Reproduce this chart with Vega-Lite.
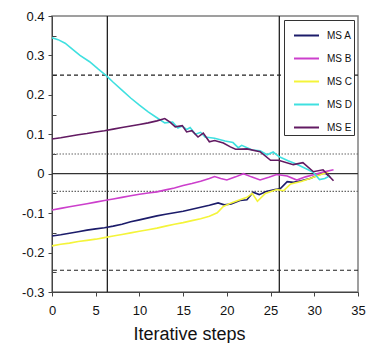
{
  "$schema": "https://vega.github.io/schema/vega-lite/v6.json",
  "autosize": {"type": "none"},
  "padding": {"left": 52, "top": 16, "right": 21, "bottom": 51},
  "width": 306,
  "height": 276,
  "background": "white",
  "config": {
    "view": {"stroke": "#808080", "strokeWidth": 1.5},
    "axis": {"labelFont": "Liberation Sans", "labelFontSize": 13, "labelColor": "#111", "domainColor": "#444", "tickColor": "#444", "grid": false, "titleFont": "Liberation Sans", "titleFontWeight": "normal", "titleColor": "#111"}
  },
  "resolve": {"axis": {"y": "independent"}},
  "datasets": {
    "lines": [
      {"step": 0, "value": -0.158, "series": "MS A"}, {"step": 1, "value": -0.155, "series": "MS A"}, {"step": 2, "value": -0.151, "series": "MS A"}, {"step": 3, "value": -0.147, "series": "MS A"}, {"step": 4, "value": -0.143, "series": "MS A"}, {"step": 5, "value": -0.140, "series": "MS A"}, {"step": 6, "value": -0.137, "series": "MS A"}, {"step": 7, "value": -0.133, "series": "MS A"}, {"step": 8, "value": -0.128, "series": "MS A"}, {"step": 9, "value": -0.122, "series": "MS A"}, {"step": 10, "value": -0.117, "series": "MS A"}, {"step": 11, "value": -0.112, "series": "MS A"}, {"step": 12, "value": -0.107, "series": "MS A"}, {"step": 13, "value": -0.103, "series": "MS A"}, {"step": 14, "value": -0.099, "series": "MS A"}, {"step": 15, "value": -0.095, "series": "MS A"}, {"step": 16, "value": -0.090, "series": "MS A"}, {"step": 17, "value": -0.085, "series": "MS A"}, {"step": 18, "value": -0.080, "series": "MS A"}, {"step": 19, "value": -0.074, "series": "MS A"}, {"step": 19.7, "value": -0.079, "series": "MS A"}, {"step": 20.5, "value": -0.077, "series": "MS A"}, {"step": 21.5, "value": -0.068, "series": "MS A"}, {"step": 22.3, "value": -0.066, "series": "MS A"}, {"step": 23, "value": -0.047, "series": "MS A"}, {"step": 23.7, "value": -0.053, "series": "MS A"}, {"step": 24.5, "value": -0.045, "series": "MS A"}, {"step": 25.5, "value": -0.040, "series": "MS A"}, {"step": 26.1, "value": -0.038, "series": "MS A"}, {"step": 26.9, "value": -0.020, "series": "MS A"}, {"step": 27.6, "value": -0.022, "series": "MS A"}, {"step": 28.5, "value": -0.018, "series": "MS A"}, {"step": 29.5, "value": -0.012, "series": "MS A"}, {"step": 30.5, "value": -0.003, "series": "MS A"}, {"step": 31.2, "value": 0.003, "series": "MS A"}, {"step": 31.8, "value": -0.008, "series": "MS A"},

      {"step": 0, "value": -0.092, "series": "MS B"}, {"step": 1, "value": -0.088, "series": "MS B"}, {"step": 2, "value": -0.084, "series": "MS B"}, {"step": 3, "value": -0.080, "series": "MS B"}, {"step": 4, "value": -0.076, "series": "MS B"}, {"step": 5, "value": -0.072, "series": "MS B"}, {"step": 6, "value": -0.068, "series": "MS B"}, {"step": 7, "value": -0.064, "series": "MS B"}, {"step": 8, "value": -0.060, "series": "MS B"}, {"step": 9, "value": -0.056, "series": "MS B"}, {"step": 10, "value": -0.052, "series": "MS B"}, {"step": 11, "value": -0.049, "series": "MS B"}, {"step": 12, "value": -0.046, "series": "MS B"}, {"step": 13, "value": -0.041, "series": "MS B"}, {"step": 14, "value": -0.036, "series": "MS B"}, {"step": 15, "value": -0.030, "series": "MS B"}, {"step": 16, "value": -0.025, "series": "MS B"}, {"step": 17, "value": -0.019, "series": "MS B"}, {"step": 18, "value": -0.012, "series": "MS B"}, {"step": 18.6, "value": -0.007, "series": "MS B"}, {"step": 19.3, "value": -0.012, "series": "MS B"}, {"step": 20, "value": -0.016, "series": "MS B"}, {"step": 21, "value": -0.008, "series": "MS B"}, {"step": 21.9, "value": 0.0, "series": "MS B"}, {"step": 22.8, "value": -0.008, "series": "MS B"}, {"step": 23.8, "value": -0.016, "series": "MS B"}, {"step": 24.8, "value": -0.009, "series": "MS B"}, {"step": 25.7, "value": -0.002, "series": "MS B"}, {"step": 26.9, "value": -0.006, "series": "MS B"}, {"step": 28, "value": -0.016, "series": "MS B"}, {"step": 29, "value": -0.008, "series": "MS B"}, {"step": 30, "value": -0.002, "series": "MS B"}, {"step": 31, "value": 0.004, "series": "MS B"}, {"step": 32.2, "value": 0.010, "series": "MS B"},

      {"step": 0, "value": -0.183, "series": "MS C"}, {"step": 1, "value": -0.179, "series": "MS C"}, {"step": 2, "value": -0.176, "series": "MS C"}, {"step": 3, "value": -0.172, "series": "MS C"}, {"step": 4, "value": -0.169, "series": "MS C"}, {"step": 5, "value": -0.166, "series": "MS C"}, {"step": 6, "value": -0.162, "series": "MS C"}, {"step": 7, "value": -0.158, "series": "MS C"}, {"step": 8, "value": -0.154, "series": "MS C"}, {"step": 9, "value": -0.150, "series": "MS C"}, {"step": 10, "value": -0.146, "series": "MS C"}, {"step": 11, "value": -0.142, "series": "MS C"}, {"step": 12, "value": -0.138, "series": "MS C"}, {"step": 13, "value": -0.133, "series": "MS C"}, {"step": 14, "value": -0.128, "series": "MS C"}, {"step": 15, "value": -0.124, "series": "MS C"}, {"step": 16, "value": -0.119, "series": "MS C"}, {"step": 17, "value": -0.114, "series": "MS C"}, {"step": 18, "value": -0.108, "series": "MS C"}, {"step": 18.9, "value": -0.099, "series": "MS C"}, {"step": 19.6, "value": -0.083, "series": "MS C"}, {"step": 20.5, "value": -0.074, "series": "MS C"}, {"step": 21.5, "value": -0.066, "series": "MS C"}, {"step": 22.3, "value": -0.060, "series": "MS C"}, {"step": 22.9, "value": -0.050, "series": "MS C"}, {"step": 23.5, "value": -0.070, "series": "MS C"}, {"step": 24.4, "value": -0.050, "series": "MS C"}, {"step": 25.7, "value": -0.040, "series": "MS C"}, {"step": 26.5, "value": -0.043, "series": "MS C"}, {"step": 27.3, "value": -0.026, "series": "MS C"}, {"step": 28.5, "value": -0.020, "series": "MS C"}, {"step": 29.5, "value": -0.012, "series": "MS C"}, {"step": 30.3, "value": -0.006, "series": "MS C"}, {"step": 31, "value": 0.0, "series": "MS C"}, {"step": 31.6, "value": 0.003, "series": "MS C"},

      {"step": 0, "value": 0.345, "series": "MS D"}, {"step": 0.7, "value": 0.340, "series": "MS D"}, {"step": 1.5, "value": 0.331, "series": "MS D"}, {"step": 2.5, "value": 0.313, "series": "MS D"}, {"step": 3.2, "value": 0.300, "series": "MS D"}, {"step": 4.3, "value": 0.284, "series": "MS D"}, {"step": 5.3, "value": 0.265, "series": "MS D"}, {"step": 6.3, "value": 0.247, "series": "MS D"}, {"step": 7, "value": 0.232, "series": "MS D"}, {"step": 8, "value": 0.212, "series": "MS D"}, {"step": 9, "value": 0.192, "series": "MS D"}, {"step": 10, "value": 0.174, "series": "MS D"}, {"step": 11, "value": 0.157, "series": "MS D"}, {"step": 12, "value": 0.142, "series": "MS D"}, {"step": 12.9, "value": 0.129, "series": "MS D"}, {"step": 13.8, "value": 0.131, "series": "MS D"}, {"step": 14.4, "value": 0.116, "series": "MS D"}, {"step": 14.9, "value": 0.121, "series": "MS D"}, {"step": 15.4, "value": 0.112, "series": "MS D"}, {"step": 15.8, "value": 0.117, "series": "MS D"}, {"step": 16.4, "value": 0.100, "series": "MS D"}, {"step": 17, "value": 0.105, "series": "MS D"}, {"step": 17.5, "value": 0.093, "series": "MS D"}, {"step": 18.6, "value": 0.090, "series": "MS D"}, {"step": 19.8, "value": 0.083, "series": "MS D"}, {"step": 20.7, "value": 0.079, "series": "MS D"}, {"step": 21.3, "value": 0.066, "series": "MS D"}, {"step": 21.7, "value": 0.072, "series": "MS D"}, {"step": 22.9, "value": 0.060, "series": "MS D"}, {"step": 23.8, "value": 0.058, "series": "MS D"}, {"step": 24.6, "value": 0.048, "series": "MS D"}, {"step": 25.3, "value": 0.055, "series": "MS D"}, {"step": 26, "value": 0.043, "series": "MS D"}, {"step": 27, "value": 0.033, "series": "MS D"}, {"step": 28, "value": 0.024, "series": "MS D"}, {"step": 29.3, "value": 0.010, "series": "MS D"}, {"step": 29.9, "value": 0.003, "series": "MS D"}, {"step": 30.6, "value": -0.015, "series": "MS D"}, {"step": 31.2, "value": -0.012, "series": "MS D"}, {"step": 31.8, "value": -0.005, "series": "MS D"},

      {"step": 0, "value": 0.088, "series": "MS E"}, {"step": 1, "value": 0.091, "series": "MS E"}, {"step": 2, "value": 0.095, "series": "MS E"}, {"step": 3, "value": 0.099, "series": "MS E"}, {"step": 4, "value": 0.102, "series": "MS E"}, {"step": 5, "value": 0.106, "series": "MS E"}, {"step": 6, "value": 0.109, "series": "MS E"}, {"step": 7, "value": 0.113, "series": "MS E"}, {"step": 8, "value": 0.117, "series": "MS E"}, {"step": 9, "value": 0.121, "series": "MS E"}, {"step": 10, "value": 0.125, "series": "MS E"}, {"step": 11, "value": 0.129, "series": "MS E"}, {"step": 12, "value": 0.134, "series": "MS E"}, {"step": 12.9, "value": 0.140, "series": "MS E"}, {"step": 13.5, "value": 0.131, "series": "MS E"}, {"step": 14.1, "value": 0.119, "series": "MS E"}, {"step": 14.9, "value": 0.122, "series": "MS E"}, {"step": 15.4, "value": 0.106, "series": "MS E"}, {"step": 16, "value": 0.109, "series": "MS E"}, {"step": 16.7, "value": 0.093, "series": "MS E"}, {"step": 17.3, "value": 0.103, "series": "MS E"}, {"step": 18, "value": 0.081, "series": "MS E"}, {"step": 18.6, "value": 0.084, "series": "MS E"}, {"step": 19.6, "value": 0.078, "series": "MS E"}, {"step": 20.4, "value": 0.068, "series": "MS E"}, {"step": 21, "value": 0.062, "series": "MS E"}, {"step": 22.3, "value": 0.063, "series": "MS E"}, {"step": 23.8, "value": 0.056, "series": "MS E"}, {"step": 25, "value": 0.034, "series": "MS E"}, {"step": 25.9, "value": 0.034, "series": "MS E"}, {"step": 27.6, "value": 0.023, "series": "MS E"}, {"step": 28.7, "value": 0.028, "series": "MS E"}, {"step": 29.9, "value": 0.005, "series": "MS E"}, {"step": 31, "value": 0.010, "series": "MS E"}, {"step": 32.2, "value": -0.018, "series": "MS E"}
    ]
  },
  "layer": [
    {
      "data": {"values": [{"y": 0.05}, {"y": -0.045}]},
      "mark": {"type": "rule", "color": "#666", "strokeDash": [1.5, 1.5], "strokeWidth": 1.2},
      "encoding": {"y": {"field": "y", "type": "quantitative", "scale": {"domain": [-0.3, 0.4], "nice": false},
        "axis": {"orient": "left", "offset": -4, "values": [0.35, 0.25, 0.15, 0.05, -0.05, -0.15, -0.25], "labels": false, "domain": false, "tickSize": 4, "title": null}}}
    },
    {
      "data": {"values": [{"y": 0.25}, {"y": -0.245}]},
      "mark": {"type": "rule", "color": "#222", "strokeDash": [4, 3], "strokeWidth": 1.1},
      "encoding": {"y": {"field": "y", "type": "quantitative", "axis": null}}
    },
    {
      "data": {"values": [{"y": 0}]},
      "mark": {"type": "rule", "color": "#333", "strokeWidth": 1.3},
      "encoding": {"y": {"field": "y", "type": "quantitative", "axis": null}}
    },
    {
      "data": {"values": [{"x": 6.33}, {"x": 26.0}]},
      "mark": {"type": "rule", "color": "#222", "strokeWidth": 1.3},
      "encoding": {"x": {"field": "x", "type": "quantitative"}}
    },
    {
      "data": {"name": "lines"},
      "mark": {"type": "line", "strokeWidth": 1.6},
      "encoding": {
        "x": {"field": "step", "type": "quantitative", "scale": {"domain": [0, 35], "nice": false},
              "axis": {"values": [0, 5, 10, 15, 20, 25, 30, 35], "tickSize": 4, "labelPadding": 8, "title": "Iterative steps", "titleFontSize": 18, "titleX": 137, "titleY": 47, "titleBaseline": "alphabetic", "titleAlign": "center", "labelFlush": false, "labelOverlap": false}},
        "y": {"field": "value", "type": "quantitative", "scale": {"domain": [-0.3, 0.4], "nice": false},
              "axis": {"orient": "left", "values": [-0.3, -0.2, -0.1, 0, 0.1, 0.2, 0.3, 0.4],
                       "labelExpr": "toString(round(datum.value*10)/10)",
                       "tickSize": 4, "labelPadding": 4, "title": null, "labelFlush": false, "labelOverlap": false}},
        "color": {"field": "series", "type": "nominal",
                  "scale": {"domain": ["MS A", "MS B", "MS C", "MS D", "MS E"], "range": ["#1c1c6a", "#cc3fcc", "#f4f43a", "#3fe0e0", "#621a62"]},
                  "legend": {"title": null, "orient": "none", "legendX": 232, "legendY": 4, "symbolType": "stroke", "symbolSize": 625, "symbolStrokeWidth": 2, "labelFont": "Liberation Sans", "labelFontSize": 10, "labelColor": "#111", "strokeColor": "#333", "fillColor": "white", "padding": 2, "symbolOffset": 7, "labelOffset": 7, "rowPadding": 4}}
      }
    }
  ]
}
